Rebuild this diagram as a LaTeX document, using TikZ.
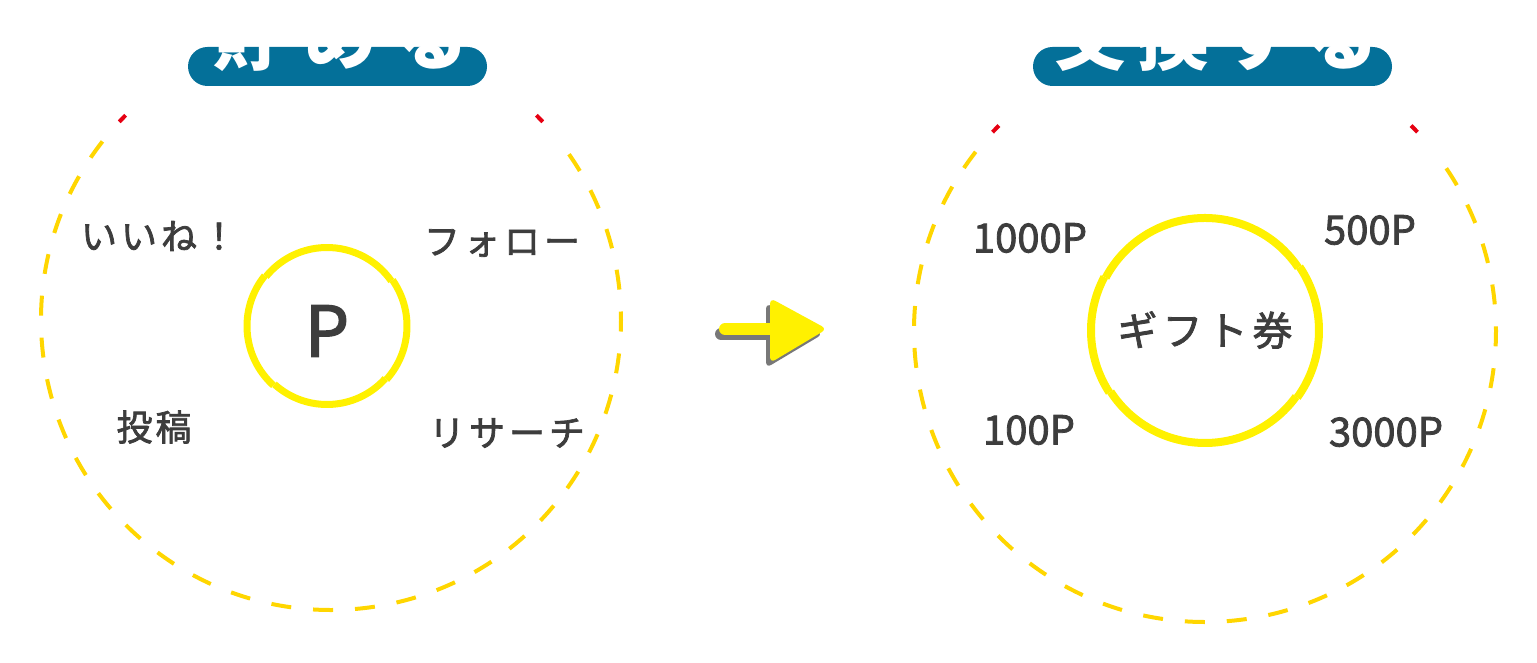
\documentclass[tikz,border=0pt]{standalone}
\usepackage{fontspec}
\newfontfamily\jp[FakeBold=2]{Noto Sans CJK JP}
\newfontfamily\jpt{Noto Sans CJK JP}
\definecolor{gold}{RGB}{255,214,0}
\definecolor{ptred}{RGB}{230,0,18}
\definecolor{ylw}{RGB}{255,241,0}
\definecolor{navy}{RGB}{4,112,153}
\definecolor{txt}{RGB}{61,61,61}
\definecolor{shadowgray}{RGB}{120,120,120}
\begin{document}
\begin{tikzpicture}[x=1pt,y=1pt,
  outer/.style={draw=gold, line width=4pt, dash pattern=on 20pt off 22pt},
  tick/.style={draw=ptred, line width=4pt},
  innerL/.style={draw=ylw, line width=7pt},
  innerR/.style={draw=ylw, line width=8pt},
  lbl/.style={font=\jp\fontsize{36}{40}\selectfont, text=txt, inner sep=0pt},
  num/.style={font=\jp\fontsize{40}{44}\selectfont, text=txt, inner sep=0pt},
  pill/.style={fill=navy, rounded corners=19.5pt},
  ttl/.style={font=\jpt\bfseries\fontsize{72}{80}\selectfont, text=white, inner sep=0pt, anchor=base}
]
\useasboundingbox (0,0) rectangle (1537,663);

% title pills
\fill[pill] (188,577) rectangle (487,616);
\fill[pill] (1033,577) rectangle (1392,616);
\node[ttl] (t1) at (341,598) {貯\kern20ptめ\kern20ptる};
\node[ttl] (t2) at (1216,598) {交\kern12pt換\kern12ptす\kern12ptる};

% outer dashed circles
\coordinate (L) at (331,343);
\coordinate (R) at (1205,332);
\draw[outer] (L) ++(142:290) arc[start angle=142, end angle=398, radius=290];
\draw[tick] (L) ++(135.1:290) arc[start angle=135.1, end angle=136.9, radius=290];
\draw[tick] (L) ++(43.1:290) arc[start angle=43.1, end angle=44.9, radius=290];
\draw[outer] (R) ++(142:291) arc[start angle=142, end angle=398, radius=291];
\draw[tick] (R) ++(135.1:291) arc[start angle=135.1, end angle=136.9, radius=291];
\draw[tick] (R) ++(43.1:291) arc[start angle=43.1, end angle=44.9, radius=291];

% inner circles
\coordinate (CL) at (327,337);
\draw[innerL] (CL) ++(35:78.5) arc[start angle=35, end angle=141, radius=78.5];
\draw[innerL] (CL) ++(141:80) arc[start angle=141, end angle=228, radius=80];
\draw[innerL] (CL) ++(228:78.5) arc[start angle=228, end angle=318, radius=78.5];
\draw[innerL] (CL) ++(318:80) arc[start angle=318, end angle=395, radius=80];
\coordinate (CR) at (1205,332.5);
\draw[innerR] (CR) ++(34:112.5) arc[start angle=34, end angle=152, radius=112.5];
\draw[innerR] (CR) ++(152:114) arc[start angle=152, end angle=213, radius=114];
\draw[innerR] (CR) ++(213:112.5) arc[start angle=213, end angle=324, radius=112.5];
\draw[innerR] (CR) ++(324:114) arc[start angle=324, end angle=394, radius=114];

% centre texts
\node[font=\jp\fontsize{70}{80}\selectfont, text=txt, inner sep=0pt] (p) at (327,332) {P};
\node[font=\jp\fontsize{40}{44}\selectfont, text=txt, inner sep=0pt] (gift) at (1205,333) {ギ\kern5ptフ\kern5ptト\kern5pt券};

% left labels
\node[lbl] (like) at (159,427) {い\kern4ptい\kern4ptね\kern4pt！};
\node[lbl] (follow) at (502,420) {フ\kern4ptォ\kern4ptロ\kern4ptー};
\node[lbl] (post) at (154,236) {投\kern3pt稿};
\node[lbl] (research) at (507,230) {リ\kern4ptサ\kern4ptー\kern4ptチ};

% right labels
\node[num] (n1000) at (1030,425) {1000P};
\node[num] (n500) at (1370,433) {500P};
\node[num] (n100) at (1029,233) {100P};
\node[num] (n3000) at (1386,231) {3000P};

% arrow with shadow
\draw[draw=shadowgray, line width=12pt, line cap=round] (721,329) -- (776,329);
\fill[fill=shadowgray, rounded corners=6pt] (766,360) -- (823,329) -- (766,295) -- cycle;
\draw[draw=ylw, line width=12pt, line cap=round] (725,334) -- (780,334);
\fill[fill=ylw, rounded corners=6pt] (770,365) -- (827,334) -- (770,300) -- cycle;
\end{tikzpicture}
\end{document}
